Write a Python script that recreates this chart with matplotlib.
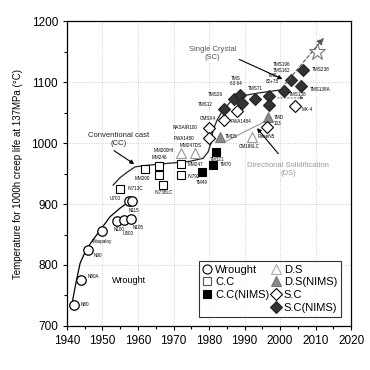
import matplotlib
matplotlib.use("Agg")
import matplotlib.pyplot as plt
from matplotlib.lines import Line2D

plt.rcParams['font.family'] = ['Liberation Sans', 'DejaVu Sans']

# wrought alloys
wr_year = [1942, 1944, 1946, 1950, 1954, 1956, 1958, 1957.5, 1958.4]
wr_temp = [735, 776, 825, 855, 872, 874, 875, 905, 905]
wr_name = ["N80", "N80A", "N90", "Waspaloy", "N100", "U500", "N105", "U700", "N115"]

# conventional cast
cc_year = [1955, 1962, 1966, 1966, 1967, 1972, 1972]
cc_temp = [925, 957, 962, 948, 932, 965, 947]
cc_name = ["IN713C", "MM200", "MM246", "", "IN738LC", "MM247", "IN792"]

ccn_year = [1982, 1981, 1978]
ccn_temp = [985, 964, 952]
ccn_name = ["TM321", "TM70", "TM49"]

# directional solidification
ds_year = [1972, 1976, 1992]
ds_temp = [983, 983, 1010]
ds_name = ["MM200Hf", "MM247DS", "ReneN5"]

dsn_year = [1983, 1996.7]
dsn_temp = [1010, 1042]
dsn_name = ["TMD5", "TMD\n103"]

# single crystal
sc_year = [1980, 1980, 1984.3, 1988, 1996.3, 2004.2]
sc_temp = [1024, 1008, 1038, 1052, 1027, 1060]
sc_name = ["NASAIR100", "PWA1480", "CMSX4", "PWA1484", "", "MX-4"]

scn_year = [1984.3, 1987.1, 1988.8, 1989.3, 1993, 1997, 1997, 2001, 2003.2, 2005.9, 2006.5]
scn_temp = [1056, 1072, 1079, 1066, 1073, 1077, 1063, 1086, 1103, 1094, 1120]
scn_name = ["TMS12", "TMS26", "TMS\n63 64", "", "TMS71", "", "", "TMS\n82+75",
            "TMS196\nTMS162", "TMS138A", "TMS238"]

# guide curves
wr_curve_x = [1941.6, 1942.5, 1943.7, 1945.4, 1947.3, 1949.6, 1952.1, 1954.9, 1957.0]
wr_curve_y = [742, 770, 803, 825, 841, 859, 879, 893, 902]
cs_curve_x = [1953, 1954.9, 1956.9, 1959.2, 1963.4, 1969, 1974.6, 1978.3, 1979.7, 1980.6,
              1981.1, 1982.3, 1983.7, 1985.9, 1989, 1993.8, 2000]
cs_curve_y = [931, 943, 952, 961, 964, 967, 970, 975, 985, 1001, 1021, 1038, 1052, 1067,
              1077, 1082, 1087]
ds_curve_x = [1984.8, 1988.2, 1991.5, 1994.4, 1996.6]
ds_curve_y = [1003, 1013, 1023, 1031, 1039]

star_year = [2010.3]
star_temp = [1150]

fig = plt.figure(figsize=(3.7, 3.7), dpi=100)
ax = fig.add_axes([0.181, 0.119, 0.768, 0.824])

lab = dict(fontsize=3.3, textcoords="offset points")

ax.plot(wr_curve_x, wr_curve_y, color="black", lw=0.9)
ax.plot(cs_curve_x, cs_curve_y, color="#222222", lw=0.9)
ax.plot(ds_curve_x, ds_curve_y, color="#999999", lw=0.8)
ax.annotate("", xy=(2012.8, 1176), xytext=(2000, 1087),
            arrowprops=dict(arrowstyle="-|>", ls=(0, (3, 2)), color="#555555", lw=0.8))
ax.annotate("", xy=(2007.5, 1074), xytext=(1998.5, 1074),
            arrowprops=dict(arrowstyle="-|>", ls=(0, (2, 2)), color="#555555", lw=0.6,
                            mutation_scale=5))

ms = 6
ax.plot(wr_year, wr_temp, "o", ms=ms + 0.8, mfc="white", mec="black", mew=0.9, ls="none")
ax.plot(cc_year, cc_temp, "s", ms=ms, mfc="white", mec="black", mew=0.8, ls="none")
ax.plot(ccn_year, ccn_temp, "s", ms=ms, mfc="black", mec="black", mew=0.8, ls="none")
ax.plot(ds_year, ds_temp, "^", ms=ms + 0.8, mfc="white", mec="#999999", mew=0.8, ls="none")
ax.plot(dsn_year, dsn_temp, "^", ms=ms + 0.8, mfc="#888888", mec="#777777", mew=0.8, ls="none")
ax.plot(sc_year, sc_temp, "D", ms=ms, mfc="white", mec="black", mew=0.8, ls="none")
ax.plot(scn_year, scn_temp, "D", ms=ms, mfc="#333333", mec="#222222", mew=0.8, ls="none")
ax.plot(star_year, star_temp, "*", ms=12, mfc="white", mec="#777777", mew=0.8, ls="none")

wr_off = [(5, 0, "left"), (5, 2, "left"), (4, -4, "left"), (0, -7, "center"), (2, -6, "center"),
          (3, -10, "center"), (5, -6, "center"), (-6, 2, "right"), (1, -7, "center")]
for x, y, n, o in zip(wr_year, wr_temp, wr_name, wr_off):
    ax.annotate(n, (x, y), xytext=o[:2], ha=o[2], va="center", **lab)

cc_off = [(5, 0, "left"), (-2, -7, "center"), (0, 6, "center"), (0, 0, "center"),
          (1, -6, "center"), (5, 0, "left"), (5, -1, "left")]
for x, y, n, o in zip(cc_year, cc_temp, cc_name, cc_off):
    ax.annotate(n, (x, y), xytext=o[:2], ha=o[2], va="center", **lab)

ccn_off = [(1, -5, "center"), (5, 0, "left"), (0, -7, "center")]
for x, y, n, o in zip(ccn_year, ccn_temp, ccn_name, ccn_off):
    ax.annotate(n, (x, y), xytext=o[:2], ha=o[2], va="center", **lab)

ds_off = [(-5, 2, "right"), (-3, 6, "center"), (4, 0, "left")]
for x, y, n, o in zip(ds_year, ds_temp, ds_name, ds_off):
    ax.annotate(n, (x, y), xytext=o[:2], ha=o[2], va="center", **lab)
ax.annotate("CM186LC", (ds_year[2], ds_temp[2]), xytext=(-2, -7), ha="center", va="center", **lab)

dsn_off = [(4, 0, "left"), (4, -2, "left")]
for x, y, n, o in zip(dsn_year, dsn_temp, dsn_name, dsn_off):
    ax.annotate(n, (x, y), xytext=o[:2], ha=o[2], va="center", **lab)

sc_off = [(-8, 1, "right"), (-11, 0, "right"), (-6, 1, "right"), (-5, -7, "left"),
          (0, 0, "center"), (5, -2, "left")]
for x, y, n, o in zip(sc_year, sc_temp, sc_name, sc_off):
    ax.annotate(n, (x, y), xytext=o[:2], ha=o[2], va="center", **lab)

scn_off = [(-8, 3, "right"), (-8, 3, "right"), (-3, 10, "center"), (0, 0, "center"),
           (0, 7, "center"), (0, 0, "center"), (0, 0, "center"), (-8, 9, "center"),
           (-7, 9, "center"), (6, -3, "left"), (6, 0, "left")]
for x, y, n, o in zip(scn_year, scn_temp, scn_name, scn_off):
    ax.annotate(n, (x, y), xytext=o[:2], ha=o[2], va="center", **lab)
ax.text(2005, 1079, "TMS138", fontsize=3.3, ha="center", va="center")

# big annotations
ax.text(1981, 1147, "Single Crystal\n(SC)", fontsize=5.5, color="#555555", ha="center",
        va="center", linespacing=1.2)
ax.annotate("", xy=(2001.4, 1103), xytext=(1987.8, 1139),
            arrowprops=dict(arrowstyle="-|>", color="black", lw=0.8, mutation_scale=6))
ax.text(1954.5, 1005, "Conventional cast\n(CC)", fontsize=5.5, color="#222222", ha="center",
        va="center", linespacing=1.2)
ax.annotate("", xy=(1959.6, 963), xytext=(1952.6, 990),
            arrowprops=dict(arrowstyle="-|>", color="black", lw=0.8, mutation_scale=6))
ax.text(2002.3, 956, "Directional Solidification\n(DS)", fontsize=5.5, color="#999999",
        ha="center", va="center", linespacing=1.2)
ax.annotate("", xy=(1993, 1028), xytext=(2000, 979),
            arrowprops=dict(arrowstyle="-|>", color="black", lw=0.8, mutation_scale=6))
ax.text(1957.5, 774, "Wrought", fontsize=6.5, ha="center", va="center")

ax.set_xlim(1940, 2020)
ax.set_ylim(700, 1200)
ax.set_xticks(range(1940, 2021, 10))
ax.set_yticks(range(700, 1201, 100))
ax.set_xticks(range(1945, 2020, 10), minor=True)
ax.set_yticks(range(750, 1200, 100), minor=True)
ax.tick_params(which="both", direction="out", labelsize=8.5, width=0.8, top=False, right=False)
ax.tick_params(which="major", length=3)
ax.tick_params(which="minor", length=2)
ax.grid(True, which="major", ls=":", color="#c4c4c4", lw=0.6)
for s in ax.spines.values():
    s.set_linewidth(0.9)
ax.set_ylabel("Temperature for 1000h creep life at 137MPa (\u00b0C)", fontsize=7, labelpad=6)

handles = [
    Line2D([], [], marker="o", ls="none", ms=6.5, mfc="white", mec="black", mew=0.8),
    Line2D([], [], marker="s", ls="none", ms=6, mfc="white", mec="#555555", mew=0.8),
    Line2D([], [], marker="s", ls="none", ms=6, mfc="black", mec="black", mew=0.8),
    Line2D([], [], ls="none"),
    Line2D([], [], marker="^", ls="none", ms=6.5, mfc="white", mec="#aaaaaa", mew=0.8),
    Line2D([], [], marker="^", ls="none", ms=6.5, mfc="#888888", mec="#777777", mew=0.8),
    Line2D([], [], marker="D", ls="none", ms=6, mfc="white", mec="black", mew=0.8),
    Line2D([], [], marker="D", ls="none", ms=6, mfc="#333333", mec="#222222", mew=0.8),
]
names = ["Wrought", "C.C", "C.C(NIMS)", "", "D.S", "D.S(NIMS)", "S.C", "S.C(NIMS)"]
leg = ax.legend(handles, names, ncol=2, loc="lower right", bbox_to_anchor=(0.965, 0.03),
                fontsize=8, frameon=True, fancybox=False, edgecolor="black",
                handlelength=0.8, handletextpad=0.3, columnspacing=0.2,
                labelspacing=0.25, borderpad=0.35, borderaxespad=0)
leg.get_frame().set_linewidth(0.8)

plt.savefig("out.png", dpi=100)
